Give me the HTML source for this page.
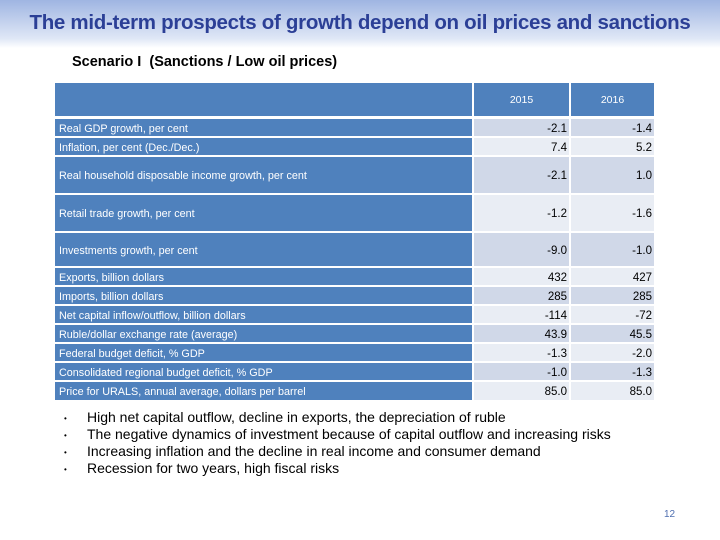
<!DOCTYPE html>
<html><head><meta charset="utf-8"><style>
body{margin:0;width:720px;height:540px;background:#fff;position:relative;overflow:hidden;font-family:"Liberation Sans",sans-serif}
.band{position:absolute;left:0;top:0;width:720px;height:48px;background:linear-gradient(#9fb5e2,#dfe7f6 80%,#ffffff)}
.title{position:absolute;left:0;top:11px;width:720px;text-align:center;font-size:20.5px;font-weight:bold;color:#2b3f96;letter-spacing:-0.3px;white-space:nowrap}
.sub{position:absolute;left:72px;top:54px;font-size:14.5px;font-weight:bold;color:#000}
.c{position:absolute;box-sizing:border-box;font-size:10.5px;display:flex;align-items:center}
.l{background:#4f81bd;color:#fff;padding-left:4px;font-size:10.8px;padding-top:2px}
.v{justify-content:flex-end;padding-right:2px;color:#000;font-size:11.5px;padding-top:2px}
.d{background:#d0d8e8}.li{background:#e9edf4}
.h{background:#4f81bd;color:#fff;justify-content:center;font-size:10.5px}
.bul{position:absolute;left:64px;font-size:14px;color:#000}
.bul span{position:absolute;left:0;font-size:8px;top:4px}
.bul b{font-weight:normal;position:absolute;left:23px;white-space:nowrap;top:-1px}
.pg{position:absolute;left:664px;top:509px;font-size:10px;color:#4f6fb0}
</style></head><body>
<div class="band"></div>
<div class="title">The mid-term prospects of growth depend on oil prices and sanctions</div>
<div class="sub">Scenario I&nbsp; (Sanctions / Low oil prices)</div>
<div id="tbl"></div>
<div class="bul" style="top:410px"><span>•</span><b>High net capital outflow, decline in exports, the depreciation of ruble</b></div>
<div class="bul" style="top:427px"><span>•</span><b>The negative dynamics of investment because of capital outflow and increasing risks</b></div>
<div class="bul" style="top:444px"><span>•</span><b>Increasing inflation and the decline in real income and consumer demand</b></div>
<div class="bul" style="top:461px"><span>•</span><b>Recession for two years, high fiscal risks</b></div>
<div class="pg">12</div>
<script>
const labels=["Real GDP growth, per cent","Inflation, per cent (Dec./Dec.)","Real household disposable income growth, per cent","Retail trade growth, per cent","Investments growth, per cent","Exports, billion dollars","Imports, billion dollars","Net  capital inflow/outflow, billion dollars","Ruble/dollar exchange rate (average)","Federal budget deficit, % GDP","Consolidated  regional budget deficit, % GDP","Price for URALS, annual average, dollars per barrel"];
const v2015=["-2.1","7.4","-2.1","-1.2","-9.0","432","285","-114","43.9","-1.3","-1.0","85.0"];
const v2016=["-1.4","5.2","1.0","-1.6","-1.0","427","285","-72","45.5","-2.0","-1.3","85.0"];
const years=["2015","2016"];
const rows=[[119,136],[138,155],[157,193],[195,231],[233,266],[268,285],[287,304],[306,323],[325,342],[344,361],[363,380],[382,400]];
const tbl=document.getElementById('tbl');
function cell(cls,x,y,w,h,t){const d=document.createElement('div');d.className='c '+cls;d.style.left=x+'px';d.style.top=y+'px';d.style.width=w+'px';d.style.height=h+'px';d.textContent=t;tbl.appendChild(d);return d;}
let e=cell('h',55,83,417,33,'');


e=cell('h',474,83,95,33,years[0]);


e=cell('h',571,83,83,33,years[1]);


labels.forEach((lab,i)=>{const [a,b]=rows[i];const h=b-a;const sh=i%2===0?'d':'li';
 let x=cell('l',55,a,417,h,lab);
 
 
 x=cell('v '+sh,474,a,95,h,v2015[i]);
 
 
 x=cell('v '+sh,571,a,83,h,v2016[i]);
 
 
});
</script>
</body></html>
